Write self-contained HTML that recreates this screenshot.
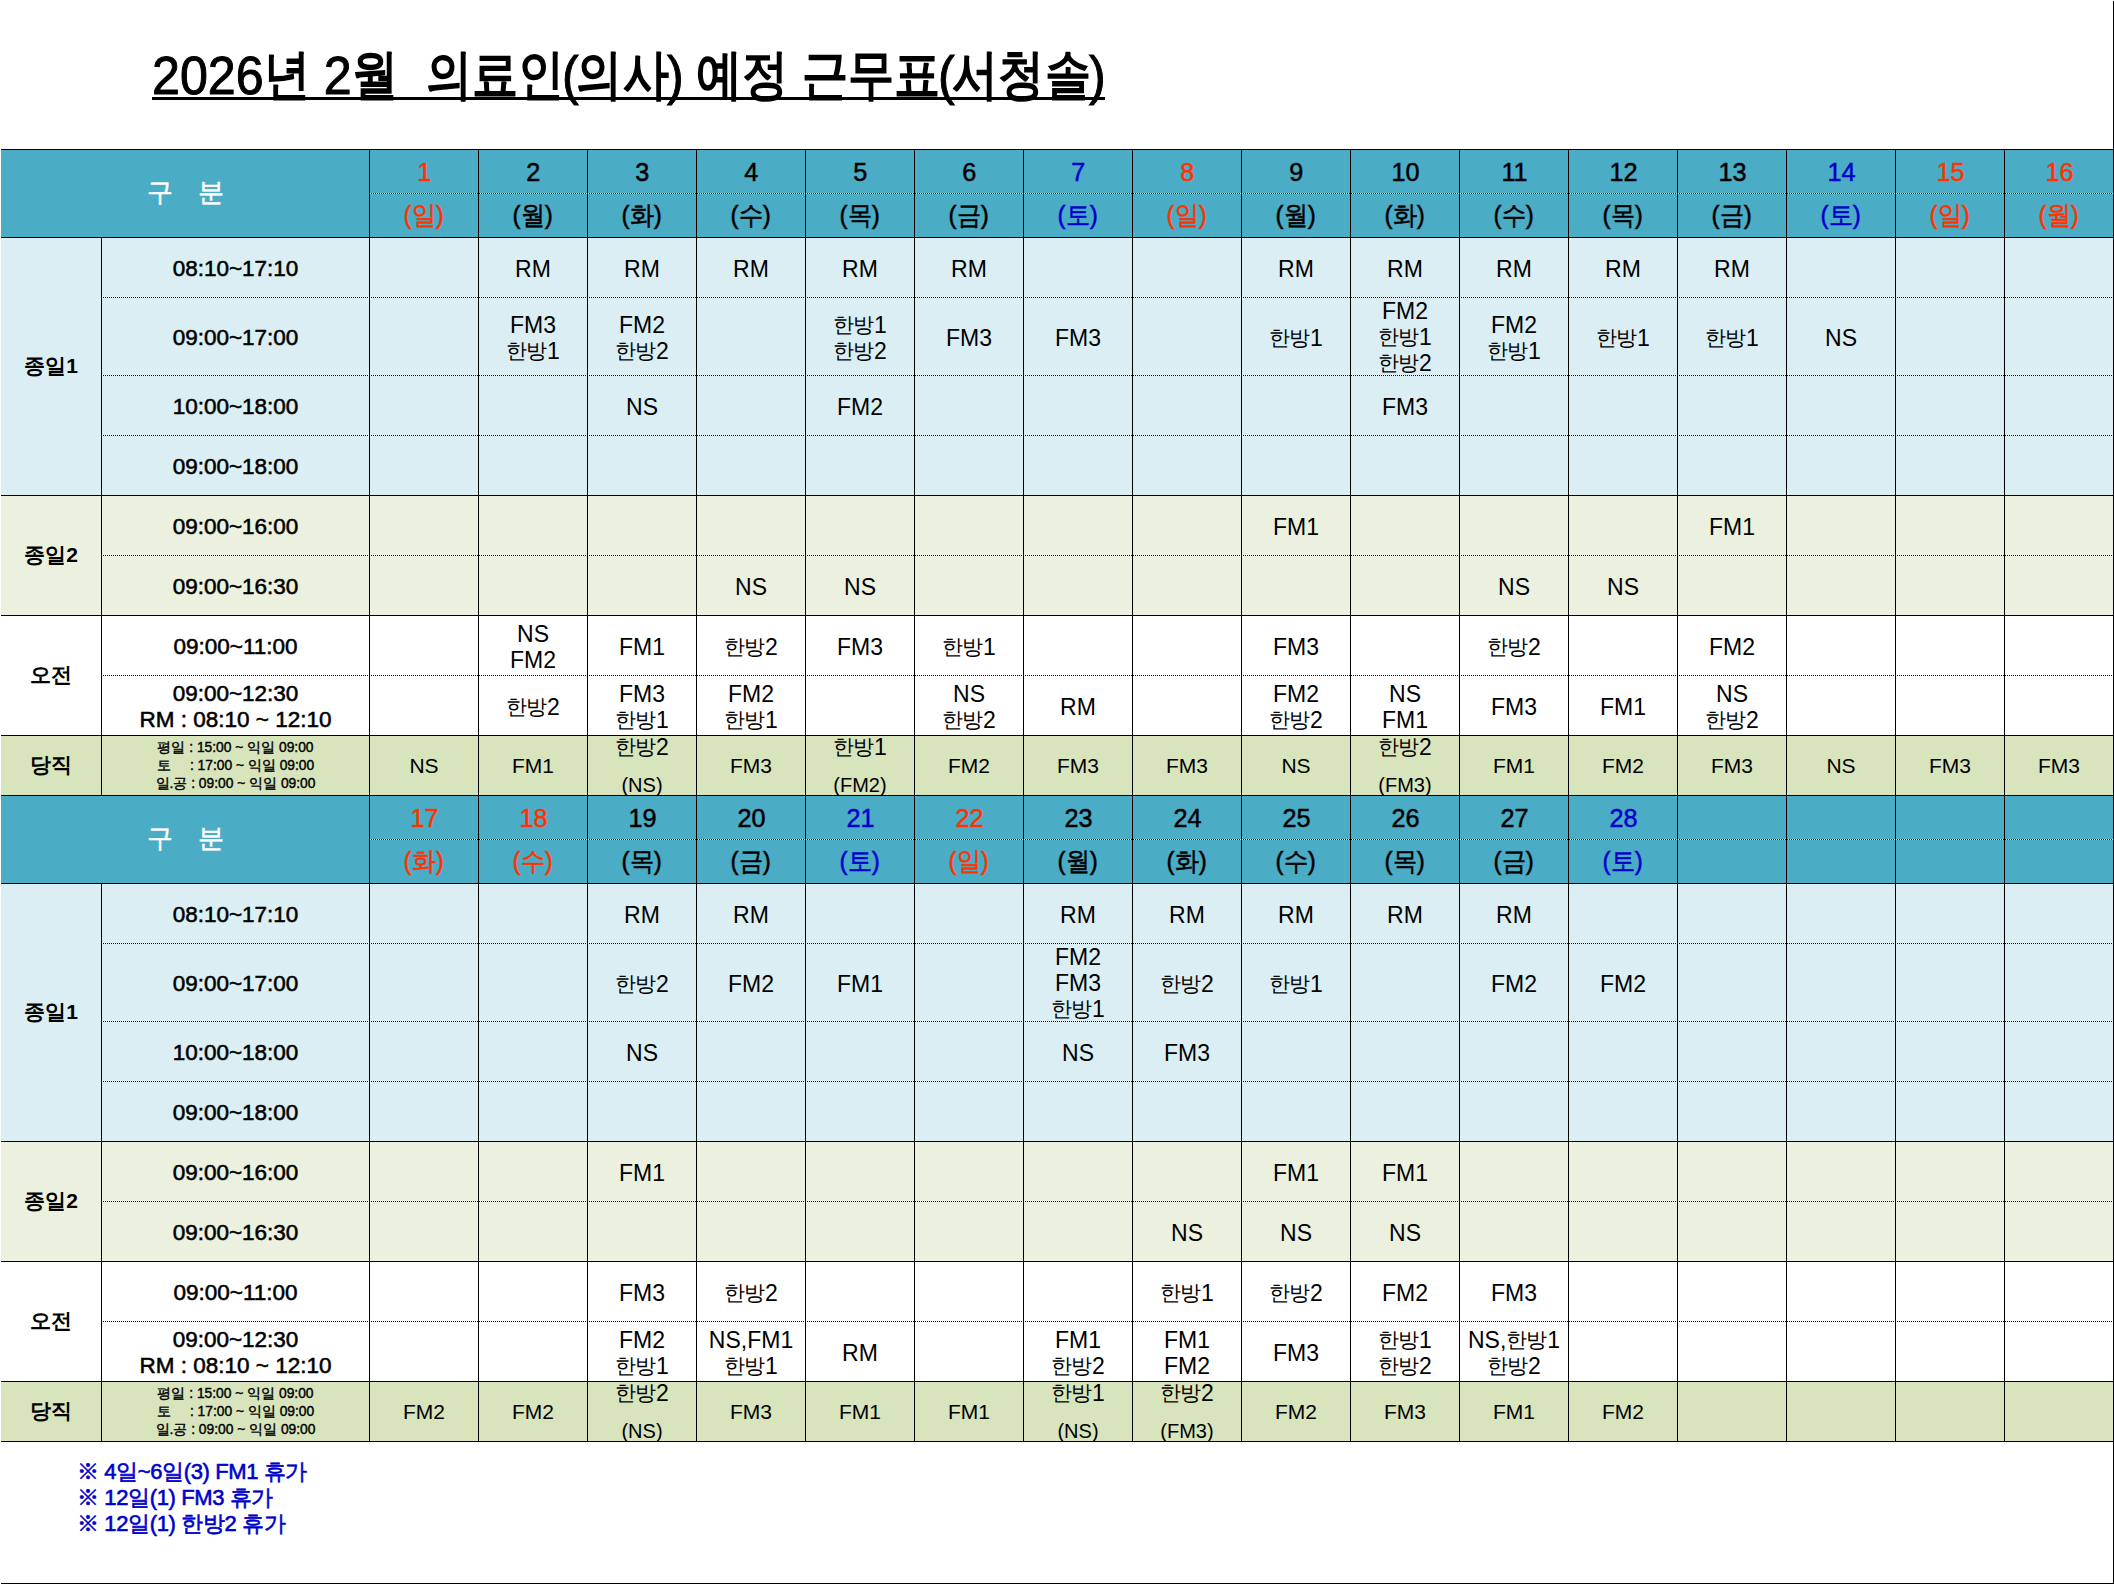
<!DOCTYPE html>
<html lang="ko"><head><meta charset="utf-8"><title>2026년 2월 의료인(의사) 예정 근무표</title>
<style>
html,body{margin:0;padding:0;background:#fff;}
body{width:2114px;height:1584px;position:relative;overflow:hidden;font-family:"Liberation Sans",sans-serif;color:#000;}
.edge-r{position:absolute;left:2113px;top:1px;width:1px;height:1583px;background:#000;}
.edge-b{position:absolute;left:1px;top:1583px;width:2113px;height:1px;background:#000;}
h1{position:absolute;left:152px;top:45px;margin:0;font-size:54px;line-height:60px;font-weight:normal;-webkit-text-stroke:1px #000;white-space:nowrap;transform-origin:0 0;transform:scaleX(0.93);}
h1 i{font-style:normal;margin:0 -2.2px;}
h1 b{font-weight:normal;-webkit-text-stroke:1.9px #000;display:inline-block;transform:translateY(-1.5px) scaleX(0.918);}
h1 b.t1{margin:0 -2.21px}h1 b.t2{margin:0 -4.43px}h1 b.t3{margin:0 -6.64px}
.ul{position:absolute;left:152px;top:97px;width:953px;height:3px;background:#000;}
table{position:absolute;left:1px;top:149px;width:2113px;border-collapse:separate;border-spacing:0;table-layout:fixed;}
col.c1{width:101px}col.c2{width:268px}col.cd{width:109px}
td,th{box-sizing:border-box;padding:0;margin:0;text-align:center;vertical-align:middle;border-right:1px solid #000;
  font-weight:normal;font-size:23px;line-height:26px;white-space:nowrap;}
td{padding-top:2px;}
td.np{padding-top:0;}
tr.h60>td{height:60px}tr.h78>td{height:78px}
tr.bl>td,td.bl{background-color:#DAEEF3}
tr.gr>td,td.gr{background-color:#EBF1DE}
tr.wh>td,td.wh{background-color:#FFFFFF}
tr.dg>td,td.dg{background-color:#D8E4BC}
tr.s>td,td.s{background-image:linear-gradient(#000,#000);background-size:100% 1px;background-position:0 100%;background-repeat:no-repeat;}
tr.d>td{background-image:linear-gradient(90deg,#fff 50%,#000 50%);background-size:2px 1px;background-position:0 100%;background-repeat:repeat-x;}
tr.d>td.o{background-position:1px 100%;}
tr.d>td.s{background-image:linear-gradient(#000,#000);background-size:100% 1px;background-repeat:no-repeat;}
tr.hd>th{background-color:#4BACC6;font-weight:normal;-webkit-text-stroke:.5px currentColor;font-size:26px;line-height:28px;}
tr.h1>th{height:44px;padding-bottom:1px;background-image:linear-gradient(90deg,#fff 50%,#000 50%);background-size:2px 1px;background-position:0 100%;background-repeat:repeat-x;}
tr.h1>th.o{background-position:1px 100%;}
tr.h1.first>th{height:45px;border-top:1px solid #000;}
tr.h2>th{height:44px;padding-bottom:2px;background-image:linear-gradient(#000,#000);background-size:100% 1px;background-position:0 100%;background-repeat:no-repeat;}
tr.h1>th.gu{background-image:linear-gradient(#000,#000);background-size:100% 1px;background-repeat:no-repeat;color:#fff;font-weight:normal;-webkit-text-stroke:.5px #fff;font-size:26px;padding-bottom:4px;}
.gap{display:inline-block;width:25px;}
th.r{color:#FF3300}th.b{color:#0000CC}
tr.dg>td{font-size:21px;padding-top:0;}
td.lab{font-weight:bold;font-size:21px;padding-top:0;padding-bottom:2px;}
td.tm{padding-top:1px;font-weight:normal;-webkit-text-stroke:.55px #000;font-size:22.5px;line-height:26px;}
tr.dg>td.duty{padding-top:0;font-weight:normal;-webkit-text-stroke:.4px #000;font-size:13.8px;line-height:18px;}
.x{display:inline-block;}
tr.hd>th .x{transform:scaleX(0.93);}
tr.h1>th .x{transform:scaleX(.97);}
.hg{font-size:.9em;letter-spacing:-.05em;margin-right:.05em;vertical-align:1px;}
.tri{height:77px;line-height:26px;overflow:hidden;}
.tri .x{margin-top:-1px;}
.two{position:relative;height:59px;overflow:hidden;}
.two>span{position:absolute;left:0;width:100%;text-align:center;}
.two>span:first-child{top:-3px;font-size:23px}.two>span:last-child{top:35px;font-size:20px}
.notes{letter-spacing:-.38px;position:absolute;left:77px;top:1459px;margin:0;font-size:22px;line-height:26px;font-weight:normal;-webkit-text-stroke:.6px #0000CC;color:#0000CC;white-space:nowrap;}
</style></head><body>
<h1>2026<b class="t1">년</b> 2<b class="t1">월</b>&nbsp; <b class="t3">의료인</b><i>(</i><b class="t2">의사</b><i>)</i> <b class="t2">예정</b> <b class="t3">근무표</b><i>(</i><b class="t3">서청솔</b><i>)</i></h1><div class="ul"></div>
<table><colgroup><col class="c1"><col class="c2"><col class="cd"><col class="cd"><col class="cd"><col class="cd"><col class="cd"><col class="cd"><col class="cd"><col class="cd"><col class="cd"><col class="cd"><col class="cd"><col class="cd"><col class="cd"><col class="cd"><col class="cd"><col class="cd"></colgroup>
<tr class="hd h1 first">
<th class="gu" colspan="2" rowspan="2">구<span class="gap"></span>분</th>
<th class="r d"><span class="x">1</span></th>
<th class="k d o"><span class="x">2</span></th>
<th class="k d"><span class="x">3</span></th>
<th class="k d o"><span class="x">4</span></th>
<th class="k d"><span class="x">5</span></th>
<th class="k d o"><span class="x">6</span></th>
<th class="b d"><span class="x">7</span></th>
<th class="r d o"><span class="x">8</span></th>
<th class="k d"><span class="x">9</span></th>
<th class="k d o"><span class="x">10</span></th>
<th class="k d"><span class="x">11</span></th>
<th class="k d o"><span class="x">12</span></th>
<th class="k d"><span class="x">13</span></th>
<th class="b d o"><span class="x">14</span></th>
<th class="r d"><span class="x">15</span></th>
<th class="r d o"><span class="x">16</span></th>
</tr>
<tr class="hd h2">
<th class="r"><span class="x">(일)</span></th>
<th class="k"><span class="x">(월)</span></th>
<th class="k"><span class="x">(화)</span></th>
<th class="k"><span class="x">(수)</span></th>
<th class="k"><span class="x">(목)</span></th>
<th class="k"><span class="x">(금)</span></th>
<th class="b"><span class="x">(토)</span></th>
<th class="r"><span class="x">(일)</span></th>
<th class="k"><span class="x">(월)</span></th>
<th class="k"><span class="x">(화)</span></th>
<th class="k"><span class="x">(수)</span></th>
<th class="k"><span class="x">(목)</span></th>
<th class="k"><span class="x">(금)</span></th>
<th class="b"><span class="x">(토)</span></th>
<th class="r"><span class="x">(일)</span></th>
<th class="r"><span class="x">(월)</span></th>
</tr>
<tr class="bl d h60">
<td class="lab bl s" rowspan="4"><span class="x">종일1</span></td>
<td class="tm"><span class="x">08:10~17:10</span></td>
<td></td>
<td class="o"><span class="x">RM</span></td>
<td><span class="x">RM</span></td>
<td class="o"><span class="x">RM</span></td>
<td><span class="x">RM</span></td>
<td class="o"><span class="x">RM</span></td>
<td></td>
<td class="o"></td>
<td><span class="x">RM</span></td>
<td class="o"><span class="x">RM</span></td>
<td><span class="x">RM</span></td>
<td class="o"><span class="x">RM</span></td>
<td><span class="x">RM</span></td>
<td class="o"></td>
<td></td>
<td class="o"></td>
</tr>
<tr class="bl d h78">
<td class="tm"><span class="x">09:00~17:00</span></td>
<td></td>
<td class="o"><span class="x">FM3<br><span class="hg">한방</span>1</span></td>
<td><span class="x">FM2<br><span class="hg">한방</span>2</span></td>
<td class="o"></td>
<td><span class="x"><span class="hg">한방</span>1<br><span class="hg">한방</span>2</span></td>
<td class="o"><span class="x">FM3</span></td>
<td><span class="x">FM3</span></td>
<td class="o"></td>
<td><span class="x"><span class="hg">한방</span>1</span></td>
<td class="np o"><div class="tri"><span class="x">FM2<br><span class="hg">한방</span>1<br><span class="hg">한방</span>2</span></div></td>
<td><span class="x">FM2<br><span class="hg">한방</span>1</span></td>
<td class="o"><span class="x"><span class="hg">한방</span>1</span></td>
<td><span class="x"><span class="hg">한방</span>1</span></td>
<td class="o"><span class="x">NS</span></td>
<td></td>
<td class="o"></td>
</tr>
<tr class="bl d h60">
<td class="tm"><span class="x">10:00~18:00</span></td>
<td></td>
<td class="o"></td>
<td><span class="x">NS</span></td>
<td class="o"></td>
<td><span class="x">FM2</span></td>
<td class="o"></td>
<td></td>
<td class="o"></td>
<td></td>
<td class="o"><span class="x">FM3</span></td>
<td></td>
<td class="o"></td>
<td></td>
<td class="o"></td>
<td></td>
<td class="o"></td>
</tr>
<tr class="bl s h60">
<td class="tm"><span class="x">09:00~18:00</span></td>
<td></td>
<td class="o"></td>
<td></td>
<td class="o"></td>
<td></td>
<td class="o"></td>
<td></td>
<td class="o"></td>
<td></td>
<td class="o"></td>
<td></td>
<td class="o"></td>
<td></td>
<td class="o"></td>
<td></td>
<td class="o"></td>
</tr>
<tr class="gr d h60">
<td class="lab gr s" rowspan="2"><span class="x">종일2</span></td>
<td class="tm"><span class="x">09:00~16:00</span></td>
<td></td>
<td class="o"></td>
<td></td>
<td class="o"></td>
<td></td>
<td class="o"></td>
<td></td>
<td class="o"></td>
<td><span class="x">FM1</span></td>
<td class="o"></td>
<td></td>
<td class="o"></td>
<td><span class="x">FM1</span></td>
<td class="o"></td>
<td></td>
<td class="o"></td>
</tr>
<tr class="gr s h60">
<td class="tm"><span class="x">09:00~16:30</span></td>
<td></td>
<td class="o"></td>
<td></td>
<td class="o"><span class="x">NS</span></td>
<td><span class="x">NS</span></td>
<td class="o"></td>
<td></td>
<td class="o"></td>
<td></td>
<td class="o"></td>
<td><span class="x">NS</span></td>
<td class="o"><span class="x">NS</span></td>
<td></td>
<td class="o"></td>
<td></td>
<td class="o"></td>
</tr>
<tr class="wh d h60">
<td class="lab wh s" rowspan="2"><span class="x">오전</span></td>
<td class="tm"><span class="x">09:00~11:00</span></td>
<td></td>
<td class="o"><span class="x">NS<br>FM2</span></td>
<td><span class="x">FM1</span></td>
<td class="o"><span class="x"><span class="hg">한방</span>2</span></td>
<td><span class="x">FM3</span></td>
<td class="o"><span class="x"><span class="hg">한방</span>1</span></td>
<td></td>
<td class="o"></td>
<td><span class="x">FM3</span></td>
<td class="o"></td>
<td><span class="x"><span class="hg">한방</span>2</span></td>
<td class="o"></td>
<td><span class="x">FM2</span></td>
<td class="o"></td>
<td></td>
<td class="o"></td>
</tr>
<tr class="wh s h60">
<td class="tm"><span class="x">09:00~12:30<br>RM : 08:10 ~ 12:10</span></td>
<td></td>
<td class="o"><span class="x"><span class="hg">한방</span>2</span></td>
<td><span class="x">FM3<br><span class="hg">한방</span>1</span></td>
<td class="o"><span class="x">FM2<br><span class="hg">한방</span>1</span></td>
<td></td>
<td class="o"><span class="x">NS<br><span class="hg">한방</span>2</span></td>
<td><span class="x">RM</span></td>
<td class="o"></td>
<td><span class="x">FM2<br><span class="hg">한방</span>2</span></td>
<td class="o"><span class="x">NS<br>FM1</span></td>
<td><span class="x">FM3</span></td>
<td class="o"><span class="x">FM1</span></td>
<td><span class="x">NS<br><span class="hg">한방</span>2</span></td>
<td class="o"></td>
<td></td>
<td class="o"></td>
</tr>
<tr class="dg s h60">
<td class="lab dg s" rowspan="1"><span class="x">당직</span></td>
<td class="duty"><span class="x">평일 : 15:00 ~ 익일 09:00<br>토&nbsp;&nbsp;&nbsp;&nbsp; : 17:00 ~ 익일 09:00<br>일.공 : 09:00 ~ 익일 09:00</span></td>
<td><span class="x">NS</span></td>
<td class="o"><span class="x">FM1</span></td>
<td class="np"><div class="two"><span><span class="x"><span class="hg">한방</span>2</span></span><span><span class="x">(NS)</span></span></div></td>
<td class="o"><span class="x">FM3</span></td>
<td class="np"><div class="two"><span><span class="x"><span class="hg">한방</span>1</span></span><span><span class="x">(FM2)</span></span></div></td>
<td class="o"><span class="x">FM2</span></td>
<td><span class="x">FM3</span></td>
<td class="o"><span class="x">FM3</span></td>
<td><span class="x">NS</span></td>
<td class="np o"><div class="two"><span><span class="x"><span class="hg">한방</span>2</span></span><span><span class="x">(FM3)</span></span></div></td>
<td><span class="x">FM1</span></td>
<td class="o"><span class="x">FM2</span></td>
<td><span class="x">FM3</span></td>
<td class="o"><span class="x">NS</span></td>
<td><span class="x">FM3</span></td>
<td class="o"><span class="x">FM3</span></td>
</tr>
<tr class="hd h1">
<th class="gu" colspan="2" rowspan="2">구<span class="gap"></span>분</th>
<th class="r d"><span class="x">17</span></th>
<th class="r d o"><span class="x">18</span></th>
<th class="k d"><span class="x">19</span></th>
<th class="k d o"><span class="x">20</span></th>
<th class="b d"><span class="x">21</span></th>
<th class="r d o"><span class="x">22</span></th>
<th class="k d"><span class="x">23</span></th>
<th class="k d o"><span class="x">24</span></th>
<th class="k d"><span class="x">25</span></th>
<th class="k d o"><span class="x">26</span></th>
<th class="k d"><span class="x">27</span></th>
<th class="b d o"><span class="x">28</span></th>
<th class="d"></th>
<th class="d o"></th>
<th class="d"></th>
<th class="d o"></th>
</tr>
<tr class="hd h2">
<th class="r"><span class="x">(화)</span></th>
<th class="r"><span class="x">(수)</span></th>
<th class="k"><span class="x">(목)</span></th>
<th class="k"><span class="x">(금)</span></th>
<th class="b"><span class="x">(토)</span></th>
<th class="r"><span class="x">(일)</span></th>
<th class="k"><span class="x">(월)</span></th>
<th class="k"><span class="x">(화)</span></th>
<th class="k"><span class="x">(수)</span></th>
<th class="k"><span class="x">(목)</span></th>
<th class="k"><span class="x">(금)</span></th>
<th class="b"><span class="x">(토)</span></th>
<th></th>
<th></th>
<th></th>
<th></th>
</tr>
<tr class="bl d h60">
<td class="lab bl s" rowspan="4"><span class="x">종일1</span></td>
<td class="tm"><span class="x">08:10~17:10</span></td>
<td></td>
<td class="o"></td>
<td><span class="x">RM</span></td>
<td class="o"><span class="x">RM</span></td>
<td></td>
<td class="o"></td>
<td><span class="x">RM</span></td>
<td class="o"><span class="x">RM</span></td>
<td><span class="x">RM</span></td>
<td class="o"><span class="x">RM</span></td>
<td><span class="x">RM</span></td>
<td class="o"></td>
<td></td>
<td class="o"></td>
<td></td>
<td class="o"></td>
</tr>
<tr class="bl d h78">
<td class="tm"><span class="x">09:00~17:00</span></td>
<td></td>
<td class="o"></td>
<td><span class="x"><span class="hg">한방</span>2</span></td>
<td class="o"><span class="x">FM2</span></td>
<td><span class="x">FM1</span></td>
<td class="o"></td>
<td class="np"><div class="tri"><span class="x">FM2<br>FM3<br><span class="hg">한방</span>1</span></div></td>
<td class="o"><span class="x"><span class="hg">한방</span>2</span></td>
<td><span class="x"><span class="hg">한방</span>1</span></td>
<td class="o"></td>
<td><span class="x">FM2</span></td>
<td class="o"><span class="x">FM2</span></td>
<td></td>
<td class="o"></td>
<td></td>
<td class="o"></td>
</tr>
<tr class="bl d h60">
<td class="tm"><span class="x">10:00~18:00</span></td>
<td></td>
<td class="o"></td>
<td><span class="x">NS</span></td>
<td class="o"></td>
<td></td>
<td class="o"></td>
<td><span class="x">NS</span></td>
<td class="o"><span class="x">FM3</span></td>
<td></td>
<td class="o"></td>
<td></td>
<td class="o"></td>
<td></td>
<td class="o"></td>
<td></td>
<td class="o"></td>
</tr>
<tr class="bl s h60">
<td class="tm"><span class="x">09:00~18:00</span></td>
<td></td>
<td class="o"></td>
<td></td>
<td class="o"></td>
<td></td>
<td class="o"></td>
<td></td>
<td class="o"></td>
<td></td>
<td class="o"></td>
<td></td>
<td class="o"></td>
<td></td>
<td class="o"></td>
<td></td>
<td class="o"></td>
</tr>
<tr class="gr d h60">
<td class="lab gr s" rowspan="2"><span class="x">종일2</span></td>
<td class="tm"><span class="x">09:00~16:00</span></td>
<td></td>
<td class="o"></td>
<td><span class="x">FM1</span></td>
<td class="o"></td>
<td></td>
<td class="o"></td>
<td></td>
<td class="o"></td>
<td><span class="x">FM1</span></td>
<td class="o"><span class="x">FM1</span></td>
<td></td>
<td class="o"></td>
<td></td>
<td class="o"></td>
<td></td>
<td class="o"></td>
</tr>
<tr class="gr s h60">
<td class="tm"><span class="x">09:00~16:30</span></td>
<td></td>
<td class="o"></td>
<td></td>
<td class="o"></td>
<td></td>
<td class="o"></td>
<td></td>
<td class="o"><span class="x">NS</span></td>
<td><span class="x">NS</span></td>
<td class="o"><span class="x">NS</span></td>
<td></td>
<td class="o"></td>
<td></td>
<td class="o"></td>
<td></td>
<td class="o"></td>
</tr>
<tr class="wh d h60">
<td class="lab wh s" rowspan="2"><span class="x">오전</span></td>
<td class="tm"><span class="x">09:00~11:00</span></td>
<td></td>
<td class="o"></td>
<td><span class="x">FM3</span></td>
<td class="o"><span class="x"><span class="hg">한방</span>2</span></td>
<td></td>
<td class="o"></td>
<td></td>
<td class="o"><span class="x"><span class="hg">한방</span>1</span></td>
<td><span class="x"><span class="hg">한방</span>2</span></td>
<td class="o"><span class="x">FM2</span></td>
<td><span class="x">FM3</span></td>
<td class="o"></td>
<td></td>
<td class="o"></td>
<td></td>
<td class="o"></td>
</tr>
<tr class="wh s h60">
<td class="tm"><span class="x">09:00~12:30<br>RM : 08:10 ~ 12:10</span></td>
<td></td>
<td class="o"></td>
<td><span class="x">FM2<br><span class="hg">한방</span>1</span></td>
<td class="o"><span class="x">NS,FM1<br><span class="hg">한방</span>1</span></td>
<td><span class="x">RM</span></td>
<td class="o"></td>
<td><span class="x">FM1<br><span class="hg">한방</span>2</span></td>
<td class="o"><span class="x">FM1<br>FM2</span></td>
<td><span class="x">FM3</span></td>
<td class="o"><span class="x"><span class="hg">한방</span>1<br><span class="hg">한방</span>2</span></td>
<td><span class="x">NS,<span class="hg">한방</span>1<br><span class="hg">한방</span>2</span></td>
<td class="o"></td>
<td></td>
<td class="o"></td>
<td></td>
<td class="o"></td>
</tr>
<tr class="dg s h60">
<td class="lab dg s" rowspan="1"><span class="x">당직</span></td>
<td class="duty"><span class="x">평일 : 15:00 ~ 익일 09:00<br>토&nbsp;&nbsp;&nbsp;&nbsp; : 17:00 ~ 익일 09:00<br>일.공 : 09:00 ~ 익일 09:00</span></td>
<td><span class="x">FM2</span></td>
<td class="o"><span class="x">FM2</span></td>
<td class="np"><div class="two"><span><span class="x"><span class="hg">한방</span>2</span></span><span><span class="x">(NS)</span></span></div></td>
<td class="o"><span class="x">FM3</span></td>
<td><span class="x">FM1</span></td>
<td class="o"><span class="x">FM1</span></td>
<td class="np"><div class="two"><span><span class="x"><span class="hg">한방</span>1</span></span><span><span class="x">(NS)</span></span></div></td>
<td class="np o"><div class="two"><span><span class="x"><span class="hg">한방</span>2</span></span><span><span class="x">(FM3)</span></span></div></td>
<td><span class="x">FM2</span></td>
<td class="o"><span class="x">FM3</span></td>
<td><span class="x">FM1</span></td>
<td class="o"><span class="x">FM2</span></td>
<td></td>
<td class="o"></td>
<td></td>
<td class="o"></td>
</tr>
</table>
<p class="notes">※ 4일~6일(3) FM1 휴가<br>※ 12일(1) FM3 휴가<br>※ 12일(1) 한방2 휴가</p>
<div class="edge-r"></div><div class="edge-b"></div>
</body></html>
